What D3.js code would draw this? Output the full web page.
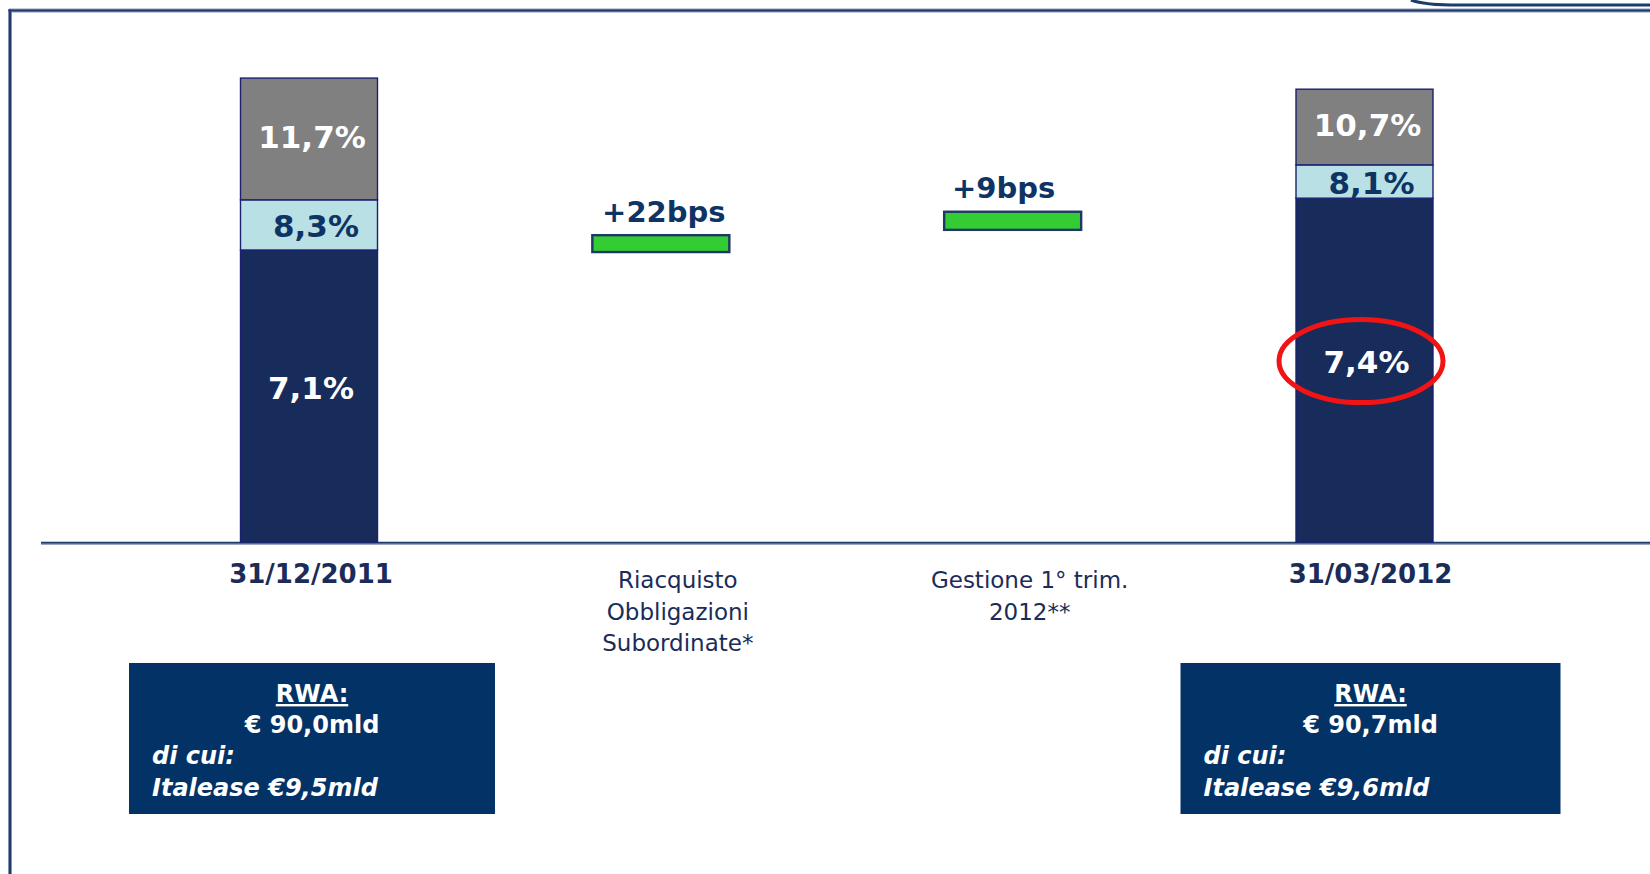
<!DOCTYPE html>
<html>
<head>
<meta charset="utf-8">
<script src="https://cdn.jsdelivr.net/npm/d3@7/dist/d3.min.js"></script>
<style>
  html, body { margin: 0; padding: 0; background: #ffffff; }
  svg { display: block; }
  text { font-family: "DejaVu Sans", Verdana, sans-serif; }
</style>
</head>
<body>
<svg id="chart" width="1650" height="874"></svg>
<script>
// ---------------- DATA ----------------
const categories = ["31/12/2011", "Riacquisto Obbligazioni Subordinate*", "Gestione 1° trim. 2012**", "31/03/2012"];
const categoryLines = [["31/12/2011"], ["Riacquisto", "Obbligazioni", "Subordinate*"], ["Gestione 1° trim.", "2012**"], ["31/03/2012"]];
const categoryBold = [true, false, false, true];

// stacked columns (first and last category)
const stackCategories = ["31/12/2011", "31/03/2012"];
const coreTier1 = [7.1, 7.4];      // label values (%)
const tier1 = [8.3, 8.1];          // label values (%)
const totalCapital = [11.7, 10.7]; // label values (%)
// level of each segment top as drawn in the picture (schematic, same units)
const drawnCoreTop = [7.10, 8.36];
const drawnTier1Top = [8.32, 9.17];
const drawnTotalTop = [11.28, 11.01];

// waterfall steps
const stepCategories = ["Riacquisto Obbligazioni Subordinate*", "Gestione 1° trim. 2012**"];
const stepBps = [22, 9];
const drawnStepLow = [7.05, 7.59];
const drawnStepHigh = [7.46, 8.03];

// RWA boxes
const rwaTotal = [90.0, 90.7];
const rwaItalease = [9.5, 9.6];

// ---------------- SETUP ----------------
const locale = d3.formatLocale({decimal: ",", thousands: ".", grouping: [3], currency: ["€", ""]});
const f1 = locale.format(".1f");

const svg = d3.select("#chart");
const W = 1650, H = 874;
const baseY = 542;
const y = d3.scaleLinear().domain([0, 12]).range([baseY, baseY - 12 * 41.127]);
const x = d3.scalePoint().domain(categories).range([309, 1364.5]);
const barW = 137;

const C = {
  navy: "#172c5b",
  light: "#b9e0e4",
  gray: "#808080",
  barStroke: "#1b2070",
  green: "#33cc33",
  frame: "#1f3a6b",
  text: "#1b2c58",
  textBlue: "#0e3465",
  box: "#033366",
  red: "#f01414"
};

// ---------------- FRAME ----------------
svg.append("line").attr("x1", 9).attr("x2", W).attr("y1", 10.5).attr("y2", 10.5)
  .attr("stroke", "#8b9cbc").attr("stroke-width", 4);
svg.append("line").attr("x1", 10).attr("x2", 10).attr("y1", 9).attr("y2", H)
  .attr("stroke", "#8b9cbc").attr("stroke-width", 4);
svg.append("line").attr("x1", 8.5).attr("x2", W).attr("y1", 10.5).attr("y2", 10.5)
  .attr("stroke", C.frame).attr("stroke-width", 2.2);
svg.append("line").attr("x1", 10).attr("x2", 10).attr("y1", 9.5).attr("y2", H)
  .attr("stroke", C.frame).attr("stroke-width", 2.2);
// rounded box edge in the top-right corner
svg.append("path").attr("d", "M1411,0 Q1424,5 1458,5 L1650,5")
  .attr("fill", "none").attr("stroke", "#1a3d6e").attr("stroke-width", 3);

// ---------------- BASELINE ----------------
svg.append("line").attr("x1", 41).attr("x2", W).attr("y1", baseY + 2.5).attr("y2", baseY + 2.5)
  .attr("stroke", "#9aa8c2").attr("stroke-width", 1.2);
svg.append("line").attr("x1", 41).attr("x2", W).attr("y1", baseY + 0.8).attr("y2", baseY + 0.8)
  .attr("stroke", C.frame).attr("stroke-width", 2);

// ---------------- STACKED COLUMNS ----------------
const stackData = stackCategories.map((c, i) => ({
  cat: c,
  segs: [
    {key: "core", lo: 0, hi: drawnCoreTop[i], fill: C.navy, label: f1(coreTier1[i]) + "%", color: "#ffffff", dy: 3, dx: 2},
    {key: "tier1", lo: drawnCoreTop[i], hi: drawnTier1Top[i], fill: C.light, label: f1(tier1[i]) + "%", color: C.textBlue, dy: 12, dx: 7},
    {key: "total", lo: drawnTier1Top[i], hi: drawnTotalTop[i], fill: C.gray, label: f1(totalCapital[i]) + "%", color: "#ffffff", dy: 9, dx: 3}
  ]
}));

const cols = svg.selectAll("g.col").data(stackData).join("g").attr("class", "col");
cols.selectAll("rect").data(d => d.segs.map(s => ({...s, cat: d.cat}))).join("rect")
  .attr("x", d => x(d.cat) - barW / 2)
  .attr("width", barW)
  .attr("y", d => y(d.hi))
  .attr("height", d => y(d.lo) - y(d.hi))
  .attr("fill", d => d.fill)
  .attr("stroke", C.barStroke)
  .attr("stroke-width", 1.4);
cols.selectAll("text").data(d => d.segs.map(s => ({...s, cat: d.cat}))).join("text")
  .attr("x", d => x(d.cat) + d.dx)
  .attr("y", d => (y(d.lo) + y(d.hi)) / 2 + d.dy)
  .attr("text-anchor", "middle")
  .attr("font-size", 31)
  .attr("font-weight", "bold")
  .attr("fill", d => d.color)
  .text(d => d.label);

// ---------------- STEP BARS ----------------
const stepNudge = [3, -9];
const steps = svg.selectAll("g.step").data(stepCategories.map((c, i) => ({cat: c, lo: drawnStepLow[i], hi: drawnStepHigh[i], bps: stepBps[i], i})))
  .join("g").attr("class", "step");
steps.append("rect")
  .attr("x", d => x(d.cat) - barW / 2)
  .attr("width", barW)
  .attr("y", d => y(d.hi))
  .attr("height", d => y(d.lo) - y(d.hi))
  .attr("fill", C.green)
  .attr("stroke", "#1f3864")
  .attr("stroke-width", 2.4);
steps.append("text")
  .attr("x", d => x(d.cat) + stepNudge[d.i])
  .attr("y", d => y(d.hi) - 13.5)
  .attr("text-anchor", "middle")
  .attr("font-size", 29)
  .attr("font-weight", "bold")
  .attr("fill", C.textBlue)
  .text(d => "+" + d.bps + "bps");

// ---------------- CATEGORY LABELS ----------------
const catNudge = [2, 17, 17, 6];
categories.forEach((c, i) => {
  const t = svg.append("text")
    .attr("text-anchor", "middle")
    .attr("fill", C.text)
    .attr("font-size", categoryBold[i] ? 26 : 23)
    .attr("font-weight", categoryBold[i] ? "bold" : "normal");
  categoryLines[i].forEach((line, k) => {
    t.append("tspan")
      .attr("x", x(c) + catNudge[i])
      .attr("y", (categoryBold[i] ? 583 : 588) + k * 31.5)
      .text(line);
  });
});

// ---------------- RED HIGHLIGHT ----------------
const lastCat = stackCategories[1];
svg.append("ellipse")
  .attr("cx", x(lastCat) - 3.5)
  .attr("cy", (y(0) + y(drawnCoreTop[1])) / 2 - 9)
  .attr("rx", 82)
  .attr("ry", 41.5)
  .attr("fill", "none")
  .attr("stroke", C.red)
  .attr("stroke-width", 5);

// ---------------- RWA BOXES ----------------
const boxW = [366, 380];
const boxNudge = [3, 6];
stackCategories.forEach((c, i) => {
  const cx = x(c) + boxNudge[i];
  const left = cx - boxW[i] / 2;
  const g = svg.append("g");
  g.append("rect").attr("x", left).attr("y", 663).attr("width", boxW[i]).attr("height", 151).attr("fill", C.box);
  g.append("text").attr("x", cx).attr("y", 702).attr("text-anchor", "middle")
    .attr("font-size", 24).attr("font-weight", "bold").attr("fill", "#fff")
    .attr("text-decoration", "underline").text("RWA:");
  g.append("text").attr("x", cx).attr("y", 733).attr("text-anchor", "middle")
    .attr("font-size", 24).attr("font-weight", "bold").attr("fill", "#fff")
    .text("€ " + f1(rwaTotal[i]) + "mld");
  g.append("text").attr("x", left + 23).attr("y", 764)
    .attr("font-size", 24).attr("font-weight", "bold").attr("font-style", "italic").attr("fill", "#fff")
    .text("di cui:");
  g.append("text").attr("x", left + 23).attr("y", 796)
    .attr("font-size", 24).attr("font-weight", "bold").attr("font-style", "italic").attr("fill", "#fff")
    .text("Italease €" + f1(rwaItalease[i]) + "mld");
});
</script>
</body>
</html>
